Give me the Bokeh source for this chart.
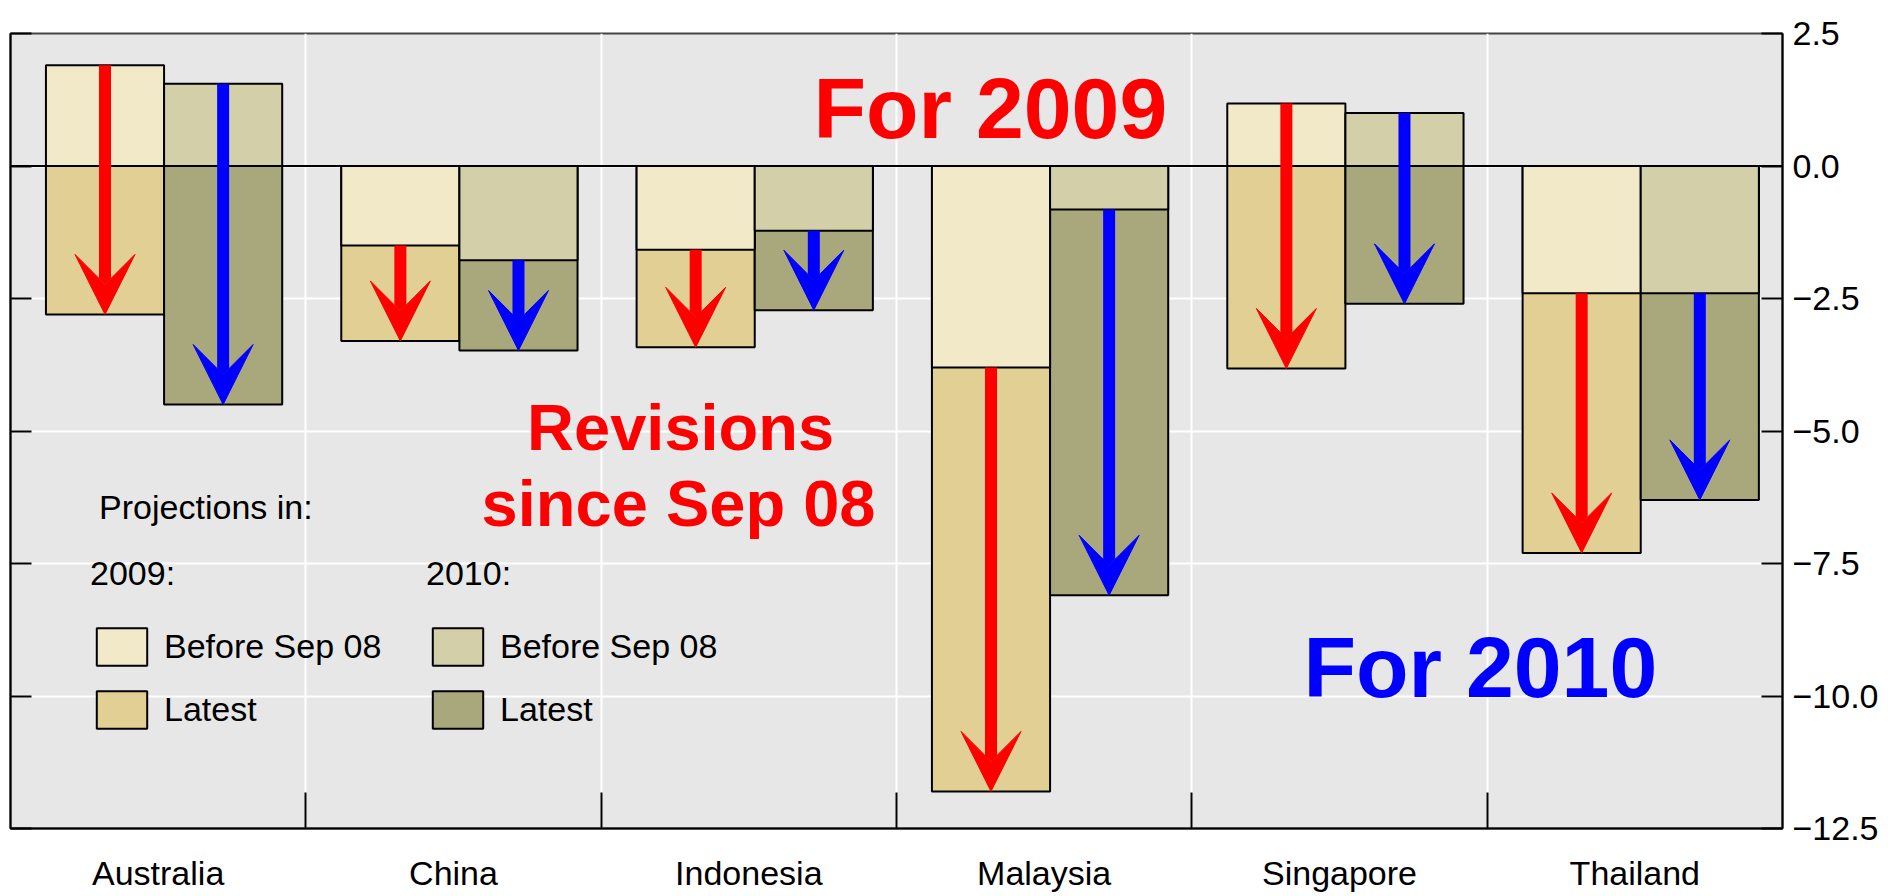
from bokeh.plotting import figure
from bokeh.models import (Range1d, FixedTicker, LinearAxis, Arrow, VeeHead, Label,
                          Legend, LegendItem, ColumnDataSource, Span)
from bokeh.embed import file_html
from bokeh.resources import INLINE

countries = ["Australia", "China", "Indonesia", "Malaysia", "Singapore", "Thailand"]
before_2009 = [1.9, -1.5, -1.58, -3.8, 1.18, -2.4]
latest_2009 = [-2.8, -3.3, -3.42, -11.8, -3.82, -7.3]
before_2010 = [1.55, -1.78, -1.22, -0.82, 1.0, -2.4]
latest_2010 = [-4.5, -3.48, -2.72, -8.1, -2.6, -6.3]
y_ticks = [2.5, 0.0, -2.5, -5.0, -7.5, -10.0, -12.5]
y_tick_labels = ["2.5", "0.0", "\u22122.5", "\u22125.0", "\u22127.5", "\u221210.0", "\u221212.5"]

FONT = "Liberation Sans"
FS = "34px"

n = len(countries)
centers = [i + 0.5 for i in range(n)]
boundaries = [i for i in range(1, n)]
x09 = [c + 0.02 - 0.2 for c in centers]
x10 = [c + 0.02 + 0.2 for c in centers]

src = ColumnDataSource(dict(x09=x09, x10=x10, b09=before_2009, l09=latest_2009,
                            b10=before_2010, l10=latest_2010))

p = figure(width=1888, height=896, x_range=Range1d(0, n), y_range=Range1d(-12.5, 2.5),
           output_backend="svg", toolbar_location=None, y_axis_location="right",
           min_border_left=10, min_border_top=33, min_border_right=106, min_border_bottom=68)
p.background_fill_color = "#e7e7e7"
p.border_fill_color = "white"
p.outline_line_color = "#444444"
p.outline_line_width = 2

# grids
p.xgrid.ticker = FixedTicker(ticks=boundaries)
p.ygrid.ticker = FixedTicker(ticks=y_ticks)
for g in (p.xgrid[0], p.ygrid[0]):
    g.grid_line_color = "white"
    g.grid_line_width = 2

# bottom axis
xa = p.xaxis[0]
xa.ticker = FixedTicker(ticks=centers, minor_ticks=boundaries)
xa.major_label_overrides = {c: name for c, name in zip(centers, countries)}
xa.major_tick_in = 0
xa.major_tick_out = 0
xa.minor_tick_in = 36
xa.minor_tick_out = 0
xa.minor_tick_line_color = "black"
xa.minor_tick_line_width = 2
xa.axis_line_color = "black"
xa.axis_line_width = 2
xa.major_label_standoff = 25
xa.major_label_text_font = FONT
xa.major_label_text_font_size = FS
xa.major_label_text_color = "black"

# right axis
ya = p.yaxis[0]
ya.ticker = FixedTicker(ticks=y_ticks)
ya.major_label_overrides = {t: s for t, s in zip(y_ticks, y_tick_labels)}
ya.major_tick_in = 21
ya.major_tick_out = 0
ya.minor_tick_in = 0
ya.minor_tick_out = 0
ya.major_tick_line_color = "black"
ya.major_tick_line_width = 2
ya.axis_line_color = "black"
ya.axis_line_width = 2
ya.major_label_standoff = 10
ya.major_label_text_font = FONT
ya.major_label_text_font_size = FS
ya.major_label_text_color = "black"

# left axis (ticks only, drawn as minor ticks so no labels)
la = LinearAxis(ticker=FixedTicker(ticks=[], minor_ticks=y_ticks),
                major_tick_in=0, major_tick_out=0, minor_tick_in=21, minor_tick_out=0,
                major_label_standoff=0, axis_line_color="black", axis_line_width=2,
                minor_tick_line_color="black", minor_tick_line_width=2)
p.add_layout(la, "left")

c_b09, c_l09, c_b10, c_l10 = "#f2e9c9", "#e2cf93", "#d3cfa9", "#a8a87c"

r_l09 = p.vbar(x="x09", top="l09", bottom=0, width=0.4, source=src,
               fill_color=c_l09, line_color="black", line_width=2)
r_l10 = p.vbar(x="x10", top="l10", bottom=0, width=0.4, source=src,
               fill_color=c_l10, line_color="black", line_width=2)
r_b09 = p.vbar(x="x09", top="b09", bottom=0, width=0.4, source=src,
               fill_color=c_b09, line_color="black", line_width=2)
r_b10 = p.vbar(x="x10", top="b10", bottom=0, width=0.4, source=src,
               fill_color=c_b10, line_color="black", line_width=2)

p.add_layout(Span(location=0, dimension="width", line_color="black", line_width=2))

p.add_layout(Arrow(source=src, x_start="x09", y_start="b09", x_end="x09", y_end="l09",
                   line_color="#ff0000", line_width=12,
                   end=VeeHead(size=60, fill_color="#ff0000", line_color="#ff0000", line_width=1)))
p.add_layout(Arrow(source=src, x_start="x10", y_start="b10", x_end="x10", y_end="l10",
                   line_color="#0000ff", line_width=12,
                   end=VeeHead(size=60, fill_color="#0000ff", line_color="#0000ff", line_width=1)))

def lab(x, y, text, size, color, style="normal", align="left"):
    p.add_layout(Label(x=x, y=y, text=text, text_font=FONT, text_font_size=size,
                       text_font_style=style, text_color=color, text_align=align,
                       text_baseline="alphabetic"))

lab(2.719, 1.09, "For 2009", "86px", "#ff0000", "bold")
lab(4.378, -9.46, "For 2010", "86px", "#0000ff", "bold")
lab(2.269, -4.93, "Revisions", "65px", "#ff0000", "bold", "center")
lab(2.262, -6.37, "since Sep 08", "65px", "#ff0000", "bold", "center")
lab(0.30, -6.43, "Projections in:", FS, "black")

def make_legend(title, rb, rl, loc):
    return Legend(items=[LegendItem(label="Before Sep 08", renderers=[rb]),
                         LegendItem(label="Latest", renderers=[rl])],
                  title=title, location=loc, orientation="vertical",
                  title_text_font=FONT, title_text_font_size=FS,
                  title_text_font_style="normal", title_text_color="black",
                  title_standoff=30,
                  label_text_font=FONT, label_text_font_size=FS,
                  label_text_color="black", label_standoff=11,
                  glyph_width=63, glyph_height=47, spacing=16,
                  padding=0, margin=0, border_line_alpha=0, background_fill_alpha=0)

p.add_layout(make_legend("2009:", r_b09, r_l09, (80, 95)))
p.add_layout(make_legend("2010:", r_b10, r_l10, (416, 95)))

open("out.html", "w").write(file_html(p, INLINE))
